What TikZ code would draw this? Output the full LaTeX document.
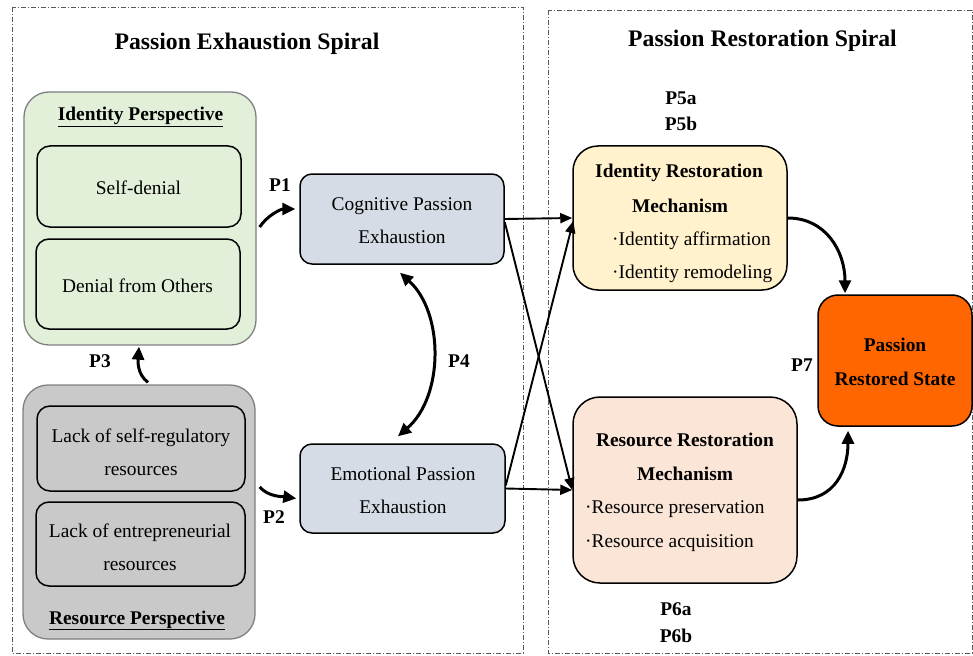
\documentclass[tikz,border=0pt]{standalone}
\usepackage{fontspec}
\setmainfont{Liberation Serif}
\usetikzlibrary{arrows.meta,calc}
\definecolor{idgreen}{HTML}{E2EFD9}
\definecolor{resgray}{HTML}{C9C9C9}
\definecolor{exblue}{HTML}{D6DCE5}
\definecolor{irmyellow}{HTML}{FFF2CC}
\definecolor{rrmpeach}{HTML}{FBE5D6}
\definecolor{prsorange}{HTML}{FF6600}
\definecolor{outergray}{HTML}{7F7F7F}
\definecolor{framegray}{HTML}{595959}
\begin{document}
\begin{tikzpicture}[x=1pt,y=-1pt,
  body/.style={font=\fontsize{19.4}{33.5}\selectfont, inner sep=0pt},
  bbold/.style={font=\fontsize{19.4}{33.5}\selectfont\bfseries, inner sep=0pt},
  ttl/.style={font=\fontsize{23.7}{28}\selectfont\bfseries, inner sep=0pt},
  outerbox/.style={draw=outergray, line width=1.3pt, rounded corners=25pt, inner sep=0pt},
  innerbox/.style={draw=black, line width=1.5pt, rounded corners=13pt, inner sep=0pt},
  frame/.style={draw=framegray, line width=0.8pt, dash pattern=on 5pt off 2pt on 1pt off 2pt},
  thickarrow/.style={line width=3pt, -{Triangle[length=13pt,width=12pt]}},
  dblarrow/.style={line width=3pt, {Triangle[length=13pt,width=12pt]}-{Triangle[length=13pt,width=12pt]}},
  thinarrow/.style={line width=1.9pt, -{Triangle[length=12pt,width=10pt]}},
]
\useasboundingbox (0,0) rectangle (973,655);

% frames
\draw[frame] (12,7) rectangle (523,653);
\draw[frame] (548,10) rectangle (972,653);

\node[ttl, anchor=base] (title1) at (247,50) {Passion Exhaustion Spiral};
\node[ttl, anchor=base] (title2) at (762.5,47) {Passion Restoration Spiral};

% identity perspective
\node[outerbox, fill=idgreen, minimum width=232pt, minimum height=253pt] (idbox) at (140,218.5) {};
\node[bbold, anchor=base] (idtitle) at (140.5,121) {\underline{Identity Perspective}};
\node[innerbox, fill=idgreen, minimum width=204pt, minimum height=81pt] (selfden) at (139,186.5) {};
\node[body, anchor=base] (selfdentxt) at (138.5,194) {Self-denial};
\node[innerbox, fill=idgreen, minimum width=204pt, minimum height=90pt] (denoth) at (138,284) {};
\node[body, anchor=base] (denothtxt) at (137.5,292) {Denial from Others};

% resource perspective
\node[outerbox, fill=resgray, minimum width=232pt, minimum height=254pt] (resbox) at (139,512) {};
\node[innerbox, fill=resgray, minimum width=208pt, minimum height=85pt] (lackself) at (141,448.5) {};
\node[body, anchor=base] (lackselfa) at (141,442) {Lack of self-regulatory};
\node[body, anchor=base] (lackselfb) at (141,475) {resources};
\node[innerbox, fill=resgray, minimum width=209pt, minimum height=84pt] (lackent) at (140.5,544) {};
\node[body, anchor=base] (lackenta) at (140,537) {Lack of entrepreneurial};
\node[body, anchor=base] (lackentb) at (140,570) {resources};
\node[bbold, anchor=base] (restitle) at (137,624) {\underline{Resource Perspective}};

% exhaustion boxes
\node[innerbox, rounded corners=12pt, fill=exblue, minimum width=204pt, minimum height=90pt] (cog) at (402,219) {};
\node[body, anchor=base] (coga) at (402,210) {Cognitive Passion};
\node[body, anchor=base] (cogb) at (402,243) {Exhaustion};
\node[innerbox, rounded corners=12pt, fill=exblue, minimum width=205pt, minimum height=89pt] (emo) at (402.5,488.5) {};
\node[body, anchor=base] (emoa) at (403,480) {Emotional Passion};
\node[body, anchor=base] (emob) at (403,513) {Exhaustion};

% restoration mechanisms
\node[innerbox, rounded corners=25pt, fill=irmyellow, minimum width=214pt, minimum height=144pt] (irm) at (680,218) {};
\node[bbold, anchor=base] (irma) at (679,178) {Identity Restoration};
\node[bbold, anchor=base] (irmb) at (680,212) {Mechanism};
\node[body, anchor=base west] (irmc) at (612,245) {·Identity affirmation};
\node[body, anchor=base west] (irmd) at (612,278) {·Identity remodeling};

\node[innerbox, rounded corners=27pt, fill=rrmpeach, minimum width=224pt, minimum height=186pt] (rrm) at (685,490) {};
\node[bbold, anchor=base] (rrma) at (685,446) {Resource Restoration};
\node[bbold, anchor=base] (rrmb) at (685,480) {Mechanism};
\node[body, anchor=base west] (rrmc) at (585,513) {·Resource preservation};
\node[body, anchor=base west] (rrmd) at (585,547) {·Resource acquisition};

\node[innerbox, rounded corners=20pt, fill=prsorange, minimum width=154pt, minimum height=131pt] (prs) at (895,360.5) {};
\node[bbold, anchor=base] (prsa) at (895,351) {Passion};
\node[bbold, anchor=base] (prsb) at (895,385) {Restored State};

% labels
\node[bbold, anchor=base] (p1) at (280,191) {P1};
\node[bbold, anchor=base] (p2) at (274,523) {P2};
\node[bbold, anchor=base] (p3) at (100,367) {P3};
\node[bbold, anchor=base] (p4) at (459,367) {P4};
\node[bbold, anchor=base] (p5a) at (681,105) {P5a};
\node[bbold, anchor=base] (p5b) at (681,131) {P5b};
\node[bbold, anchor=base] (p6a) at (676,615) {P6a};
\node[bbold, anchor=base] (p6b) at (676,642) {P6b};
\node[bbold, anchor=base] (p7) at (802,371) {P7};

% curved arrows
\draw[thickarrow] ($(idbox.east)+(3,8.5)$) .. controls +(8,-12) and +(-14,0) .. ($(cog.west)+(-4,-10)$);
\draw[thickarrow] ($(resbox.east)+(4,-25)$) .. controls +(9,10) and +(-14,-2) .. ($(emo.west)+(-3,10)$);
\draw[thickarrow] ($(resbox.north)+(9,-2)$) .. controls +(-11,-8) and +(-1,14) .. ($(idbox.south)+(-1,1)$);
\draw[dblarrow] ($(cog.south)+(-2,8)$) .. controls +(44,40) and +(46,-40) .. ($(emo.north)+(-4.5,-7)$);
\draw[thickarrow] (irm.east) .. controls +(38,0) and +(0,-42) .. ($(prs.north)+(-50,-1)$);
\draw[thickarrow] ($(rrm.east)+(0,10)$) .. controls +(38,0) and +(0,38) .. ($(prs.south)+(-47,4)$);

% straight arrows
\draw[thinarrow] (cog.east) -- (irm.west);
\draw[thinarrow] ($(cog.east)+(0,3)$) -- (rrm.west);
\draw[thinarrow] ($(emo.east)+(0,-3)$) -- ($(irm.west)+(1,3)$);
\draw[thinarrow] (emo.east) -- (rrm.west);
\end{tikzpicture}
\end{document}
